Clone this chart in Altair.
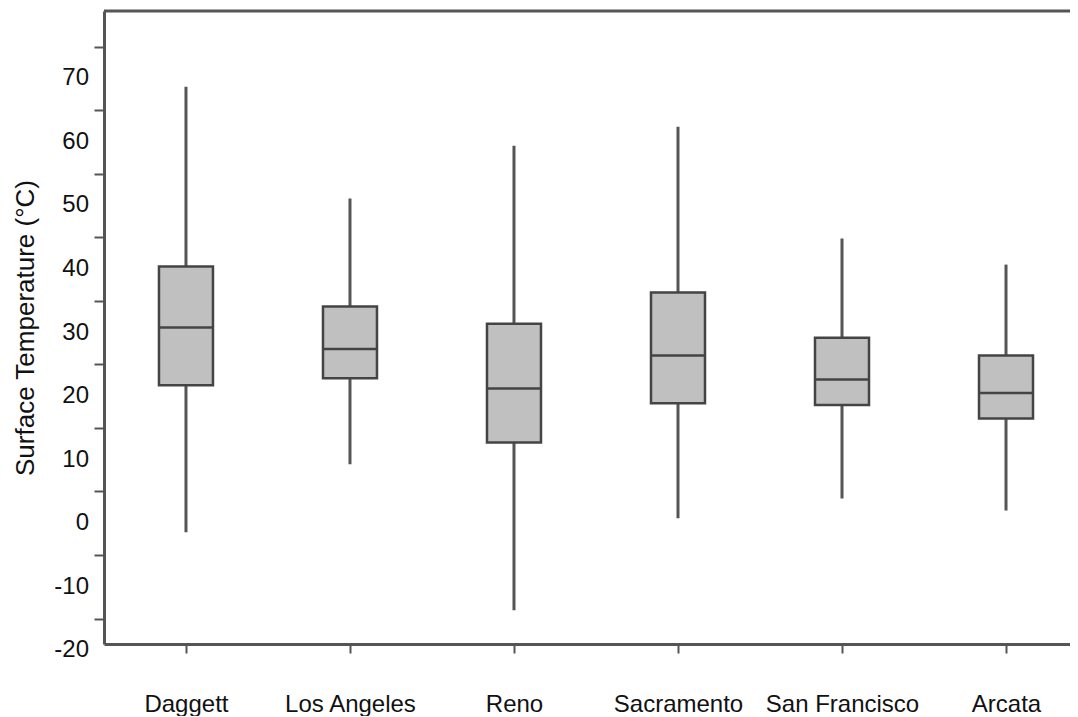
import altair as alt
import pandas as pd

stations = ["Daggett", "Los Angeles", "Reno", "Sacramento", "San Francisco", "Arcata"]
whisker_low = [-1.4, 9.3, -13.7, 0.8, 3.9, 2.0]
q1 = [21.7, 22.8, 12.7, 18.9, 18.6, 16.5]
median = [30.8, 27.4, 21.2, 26.4, 22.6, 20.5]
q3 = [40.4, 34.1, 31.4, 36.3, 29.2, 26.4]
whisker_high = [68.7, 51.1, 59.4, 62.4, 44.8, 40.7]

y_minor_ticks = [-15, -5, 5, 15, 25, 35, 45, 55, 65, 75]
y_label_values = [-20, -10, 0, 10, 20, 30, 40, 50, 60, 70]
y_label_text = ["-20", "-10", "0", "10", "20", "30", "40", "50", "60", "70"]
y_domain = [-19, 80.6]

df = pd.DataFrame({
    "station": stations,
    "low": whisker_low,
    "q1": q1,
    "median": median,
    "q3": q3,
    "high": whisker_high,
})

FONT = "Liberation Sans"
AX = "#555555"

x_enc = alt.X(
    "station:N",
    sort=stations,
    scale=alt.Scale(type="point", padding=0.445, align=0.5616),
    axis=alt.Axis(
        title=None, labelAngle=0, labelFont=FONT, labelFontSize=24, labelColor="#111111",
        labelPadding=39, tickSize=9, tickWidth=2, tickColor=AX,
        domainColor=AX, domainWidth=3, grid=False,
    ),
)

y_scale = alt.Scale(domain=y_domain, nice=False, zero=False)

y_axis = alt.Axis(
    title="Surface Temperature (°C)",
    titleFont=FONT, titleFontSize=26, titleFontWeight="normal", titleColor="#111111",
    titlePadding=55,
    values=y_minor_ticks,
    labels=False,
    tickSize=10, tickWidth=2, tickColor=AX,
    domainColor=AX, domainWidth=3, grid=False,
)

base = alt.Chart(df)

whiskers = base.mark_rule(color="#555555", strokeWidth=3).encode(
    x=x_enc,
    y=alt.Y("low:Q", scale=y_scale, axis=y_axis),
    y2="high:Q",
)

boxes = base.mark_bar(size=54, fill="#c0c0c0", stroke="#444444", strokeWidth=2.5).encode(
    x=alt.X("station:N", sort=stations),
    y=alt.Y("q1:Q"),
    y2="q3:Q",
)

medians = base.mark_tick(size=55, thickness=2.5, color="#444444", opacity=1).encode(
    x=alt.X("station:N", sort=stations),
    y=alt.Y("median:Q"),
)

top_frame = alt.Chart(pd.DataFrame({"top": [y_domain[1]]})).mark_rule(
    color=AX, strokeWidth=3
).encode(y=alt.Y("top:Q"))

y_labels = alt.Chart(pd.DataFrame({"v": y_label_values, "t": y_label_text})).mark_text(
    align="right", baseline="middle", font=FONT, fontSize=24, color="#111111"
).encode(
    y=alt.Y("v:Q"),
    x=alt.value(-15),
    text="t:N",
)

chart = alt.layer(whiskers, boxes, medians, top_frame, y_labels).properties(
    width=966,
    height=633,
    autosize=alt.AutoSizeParams(type="none"),
    padding={"left": 96, "top": 3, "right": 0, "bottom": 72},
    background="white",
).configure_view(stroke=None)

chart.save("out.html", embed_options={"renderer": "svg", "actions": False})
